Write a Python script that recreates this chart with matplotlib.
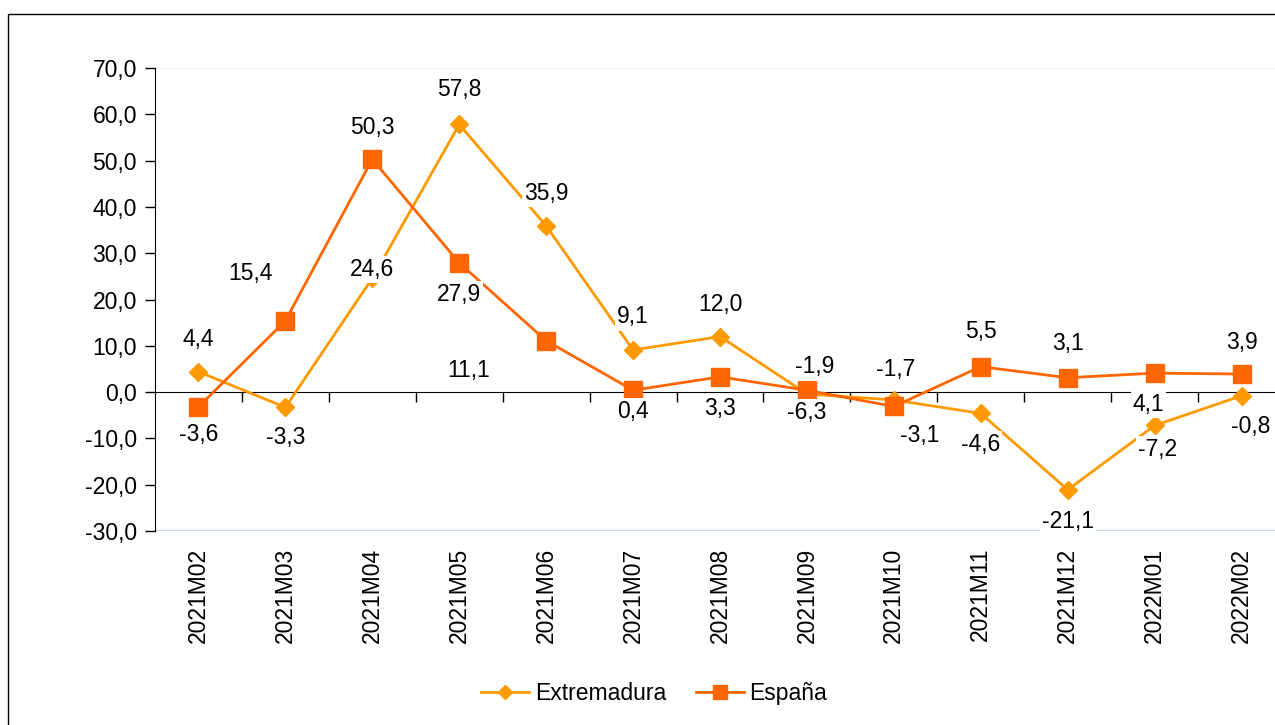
import matplotlib.pyplot as plt
from matplotlib.patches import Rectangle

plt.rcParams['font.family'] = ['Liberation Sans', 'DejaVu Sans']

# categories and values
months = ['2021M02', '2021M03', '2021M04', '2021M05', '2021M06', '2021M07',
          '2021M08', '2021M09', '2021M10', '2021M11', '2021M12', '2022M01',
          '2022M02']
extremadura = [4.4, -3.3, 24.6, 57.8, 35.9, 9.1, 12.0, -0.4, -1.7, -4.6,
               -21.1, -7.2, -0.8]
espana = [-3.2, 15.4, 50.3, 27.9, 11.1, 0.4, 3.3, 0.4, -3.1, 5.5, 3.1, 4.1, 3.9]

# data labels as printed on the chart
ext_labels = ['4,4', '-3,3', '24,6', '57,8', '35,9', '9,1', '12,0', '-1,9',
              '-1,7', '-4,6', '-21,1', '-7,2', '-0,8']
esp_labels = ['-3,6', '15,4', '50,3', '27,9', '11,1', '0,4', '3,3', '-6,3',
              '-3,1', '5,5', '3,1', '4,1', '3,9']

# label offsets in pixels (dx, dy)
ext_off = [(0, 32), (0, -30), (0, 9), (0, 35), (0, 32), (0, 33), (0, 32),
           (8, 27), (2, 30), (0, -31), (0, -32), (3, -24), (9, -31)]
esp_off = [(0, -28), (-35, 47), (0, 32), (0, -32), (-78, -30), (0, -21),
           (0, -32), (0, -22), (26, -29), (0, 35), (0, 34), (-6, -31), (0, 32)]

c_ext = '#FF9900'
c_esp = '#FF6600'
fs = 16.5

fig = plt.figure(figsize=(12.75, 7.25), dpi=100)
ax = fig.add_axes([155 / 1275, 194 / 725, 1130 / 1275, 463 / 725])

x = list(range(len(months)))
ax.plot(x, extremadura, color=c_ext, lw=2, marker='D', ms=9.5,
        label='Extremadura', zorder=3)
ax.plot(x, espana, color=c_esp, lw=2, marker='s', ms=13,
        label='España', zorder=4)

for xi, v, t, (dx, dy) in zip(x, extremadura, ext_labels, ext_off):
    ax.annotate(t, (xi, v), xytext=(dx, dy), textcoords='offset pixels',
                ha='center', va='center', fontsize=fs, zorder=6,
                bbox=dict(fc='white', ec='none', pad=1.5))
for xi, v, t, (dx, dy) in zip(x, espana, esp_labels, esp_off):
    ax.annotate(t, (xi, v), xytext=(dx, dy), textcoords='offset pixels',
                ha='center', va='center', fontsize=fs, zorder=6,
                bbox=dict(fc='white', ec='none', pad=1.5))

ax.set_xlim(-0.5, len(months) - 0.5)
ax.set_ylim(-30, 70)
ax.set_yticks(range(-30, 71, 10))
ax.set_yticklabels([f'{v:.1f}'.replace('.', ',') for v in range(-30, 71, 10)],
                   fontsize=fs)
ax.tick_params(axis='y', direction='out', length=7, width=1, pad=6)

# light border lines top and bottom
ax.axhline(70, color='#EAF0F8', lw=1.5, zorder=1)
ax.axhline(-30, color='#C5D5EA', lw=1.5, zorder=1)

for s in ['top', 'right']:
    ax.spines[s].set_visible(False)
ax.spines['left'].set_zorder(2)
ax.spines['bottom'].set_position(('data', 0))
ax.spines['bottom'].set_zorder(2)
ax.set_xticks(x)
ax.set_xticks([i + 0.5 for i in x[:-1]], minor=True)
ax.tick_params(axis='x', which='major', length=0, labelbottom=False)
ax.tick_params(axis='x', which='minor', direction='out', length=7, width=1)

sec = ax.secondary_xaxis(0)
sec.set_xticks(x)
sec.set_xticklabels(months, rotation=90, fontsize=fs)
sec.tick_params(length=0, pad=12)
sec.spines['bottom'].set_visible(False)

fig.legend(loc='center', bbox_to_anchor=(0.513, 0.044), ncol=2,
           frameon=False, fontsize=fs, handlelength=2.1, columnspacing=1.3,
           handletextpad=0.25, markerscale=0.75)

fig.patches.append(Rectangle((8 / 1275, -0.05), 1.1, 0.05 + 1 - 14 / 725,
                             transform=fig.transFigure, fill=False,
                             ec='black', lw=1))

fig.savefig('out.png', dpi=100)
